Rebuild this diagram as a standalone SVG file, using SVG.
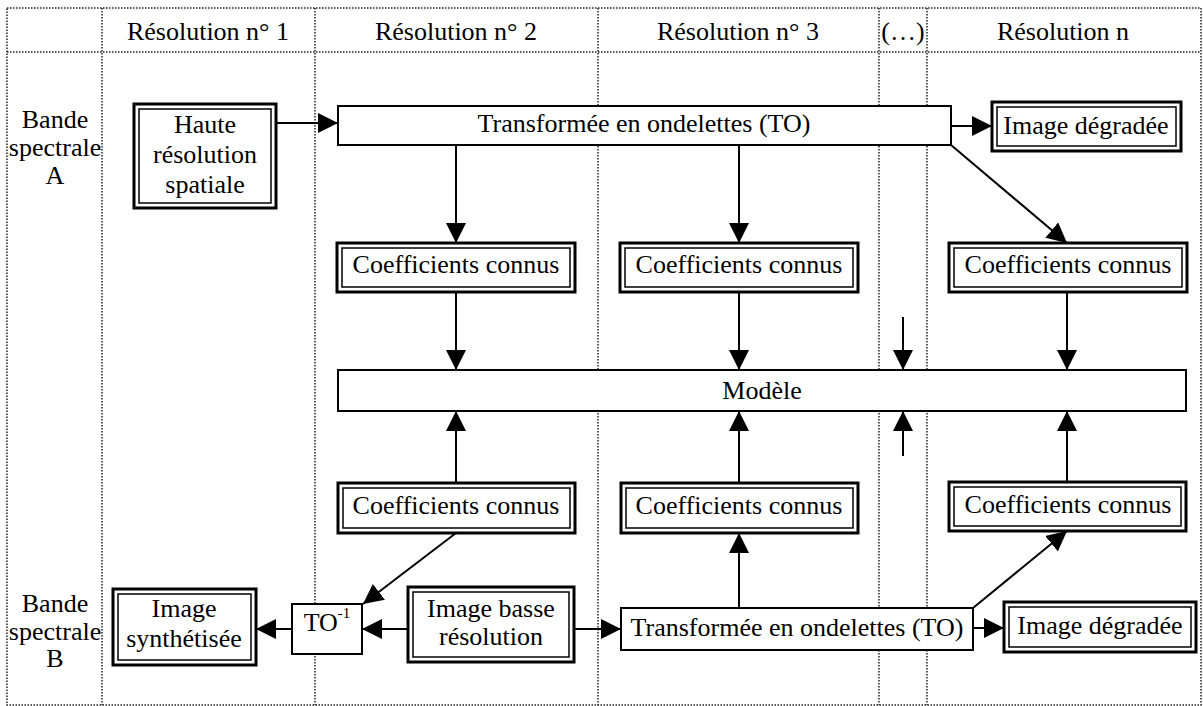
<svg xmlns="http://www.w3.org/2000/svg" width="1203" height="706" viewBox="0 0 1203 706">
<style>
text{font-family:"Liberation Serif","Times New Roman",serif;font-size:26px;fill:#000;text-anchor:middle}
.grid{stroke:#222;stroke-width:1.5;stroke-dasharray:1.5 1.5;fill:none}
.ob{fill:#fff;stroke:#000;stroke-width:3}
.ib{fill:none;stroke:#000;stroke-width:1.5}
.sb{fill:#fff;stroke:#000;stroke-width:2}
.c{stroke:#000;stroke-width:2;fill:none}
.a{marker-end:url(#ah)}
</style>
<defs>
<marker id="ah" markerUnits="userSpaceOnUse" markerWidth="20" markerHeight="20" refX="20" refY="10" orient="auto" viewBox="0 0 20 20">
<path d="M0,0 L20,10 L0,20 z" fill="#000"/>
</marker>
</defs>
<rect width="1203" height="706" fill="#fff"/>
<g id="grid">
<rect class="grid" x="7" y="8" width="1194" height="697"/>
<line class="grid" x1="7" y1="52" x2="1201" y2="52"/>
<line class="grid" x1="102" y1="8" x2="102" y2="705"/>
<line class="grid" x1="315" y1="8" x2="315" y2="705"/>
<line class="grid" x1="598" y1="8" x2="598" y2="705"/>
<line class="grid" x1="879" y1="8" x2="879" y2="705"/>
<line class="grid" x1="927" y1="8" x2="927" y2="705"/>
</g>
<g id="headers">
<text x="208" y="40">Résolution n° 1</text>
<text x="456" y="40">Résolution n° 2</text>
<text x="738" y="40">Résolution n° 3</text>
<text x="903" y="40">(…)</text>
<text x="1063" y="40">Résolution n</text>
</g>
<g id="bandA">
<text x="55" y="128">Bande</text>
<text x="55" y="156">spectrale</text>
<text x="55" y="184">A</text>
</g>
<g id="bandB">
<text x="55" y="612">Bande</text>
<text x="55" y="640">spectrale</text>
<text x="55" y="667">B</text>
</g>
<g id="connectors">
<line class="c a" x1="276" y1="123" x2="338" y2="123"/>
<line class="c a" x1="951" y1="126" x2="992" y2="126"/>
<line class="c a" x1="456" y1="145" x2="456" y2="243"/>
<line class="c a" x1="739" y1="145" x2="739" y2="243"/>
<line class="c a" x1="951" y1="145" x2="1067" y2="243"/>
<line class="c a" x1="456" y1="292" x2="456" y2="370"/>
<line class="c a" x1="739" y1="292" x2="739" y2="370"/>
<line class="c a" x1="1067" y1="292" x2="1067" y2="370"/>
<line class="c a" x1="903" y1="317" x2="903" y2="370"/>
<line class="c a" x1="903" y1="456" x2="903" y2="411"/>
<line class="c a" x1="456" y1="483" x2="456" y2="411"/>
<line class="c a" x1="739" y1="483" x2="739" y2="411"/>
<line class="c a" x1="1067" y1="482" x2="1067" y2="411"/>
<line class="c a" x1="456" y1="533" x2="363" y2="604"/>
<line class="c a" x1="292" y1="629" x2="256" y2="629"/>
<line class="c a" x1="408" y1="629" x2="362" y2="629"/>
<line class="c a" x1="574" y1="629" x2="621" y2="629"/>
<line class="c a" x1="739" y1="608" x2="739" y2="533"/>
<line class="c a" x1="973" y1="608" x2="1067" y2="531"/>
<line class="c a" x1="973" y1="628" x2="1004" y2="628"/>
</g>
<g id="haute">
<rect class="ob" x="134" y="104" width="142" height="104"/>
<rect class="ib" x="139" y="109" width="132" height="94"/>
<text x="205" y="133">Haute</text>
<text x="205" y="163">résolution</text>
<text x="205" y="193">spatiale</text>
</g>
<g id="toA">
<rect class="sb" x="338" y="106" width="613" height="39"/>
<text x="644" y="132">Transformée en ondelettes (TO)</text>
</g>
<g id="imgDegA">
<rect class="ob" x="992" y="102" width="189" height="49"/>
<rect class="ib" x="997" y="107" width="179" height="39"/>
<text x="1086" y="134">Image dégradée</text>
</g>
<g id="coefA1">
<rect class="ob" x="337" y="243" width="238" height="49"/>
<rect class="ib" x="342" y="248" width="228" height="39"/>
<text x="456" y="273">Coefficients connus</text>
</g>
<g id="coefA2">
<rect class="ob" x="620" y="243" width="238" height="49"/>
<rect class="ib" x="625" y="248" width="228" height="39"/>
<text x="739" y="273">Coefficients connus</text>
</g>
<g id="coefA3">
<rect class="ob" x="949" y="243" width="238" height="49"/>
<rect class="ib" x="954" y="248" width="228" height="39"/>
<text x="1068" y="273">Coefficients connus</text>
</g>
<g id="modele">
<rect class="sb" x="338" y="370" width="848" height="41"/>
<text x="762" y="399">Modèle</text>
</g>
<g id="coefB1">
<rect class="ob" x="338" y="483" width="237" height="50"/>
<rect class="ib" x="343" y="488" width="227" height="40"/>
<text x="456" y="514">Coefficients connus</text>
</g>
<g id="coefB2">
<rect class="ob" x="621" y="483" width="237" height="50"/>
<rect class="ib" x="626" y="488" width="227" height="40"/>
<text x="739" y="514">Coefficients connus</text>
</g>
<g id="coefB3">
<rect class="ob" x="949" y="482" width="237" height="49"/>
<rect class="ib" x="954" y="487" width="227" height="39"/>
<text x="1068" y="513">Coefficients connus</text>
</g>
<g id="imgSynth">
<rect class="ob" x="113" y="589" width="143" height="76"/>
<rect class="ib" x="118" y="594" width="133" height="66"/>
<text x="184" y="617">Image</text>
<text x="184" y="647">synthétisée</text>
</g>
<g id="toInv">
<rect class="sb" x="292" y="604" width="70" height="50"/>
<text x="327" y="631">TO<tspan font-size="15" dy="-13">-1</tspan></text>
</g>
<g id="imgBasse">
<rect class="ob" x="408" y="587" width="166" height="75"/>
<rect class="ib" x="413" y="592" width="156" height="65"/>
<text x="491" y="617">Image basse</text>
<text x="491" y="645">résolution</text>
</g>
<g id="toB">
<rect class="sb" x="621" y="608" width="352" height="42"/>
<text x="797" y="636">Transformée en ondelettes (TO)</text>
</g>
<g id="imgDegB">
<rect class="ob" x="1004" y="602" width="192" height="50"/>
<rect class="ib" x="1009" y="607" width="182" height="40"/>
<text x="1100" y="634">Image dégradée</text>
</g>
</svg>
